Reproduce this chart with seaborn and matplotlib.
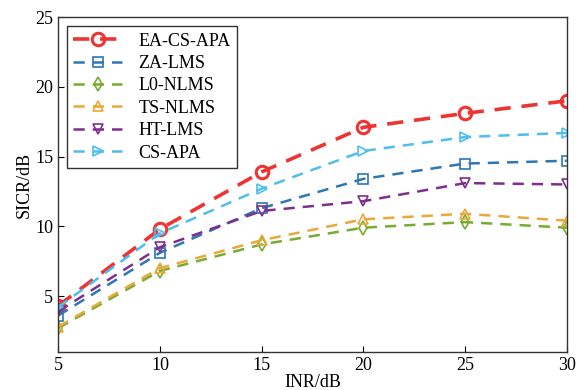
import pandas as pd
import seaborn as sns
import matplotlib.pyplot as plt

inr = [5, 10, 15, 20, 25, 30]
ea_cs_apa = [4.3, 9.8, 13.9, 17.1, 18.1, 19.0]
za_lms = [3.6, 8.1, 11.3, 13.4, 14.5, 14.7]
l0_nlms = [2.7, 6.8, 8.7, 9.9, 10.3, 9.9]
ts_nlms = [2.8, 7.0, 9.0, 10.5, 10.9, 10.4]
ht_lms = [3.9, 8.5, 11.1, 11.8, 13.1, 13.0]
cs_apa = [4.2, 9.5, 12.7, 15.4, 16.4, 16.7]

names = ["EA-CS-APA", "ZA-LMS", "L0-NLMS", "TS-NLMS", "HT-LMS", "CS-APA"]
series = [ea_cs_apa, za_lms, l0_nlms, ts_nlms, ht_lms, cs_apa]

rows = []
for name, vals in zip(names, series):
    for x, v in zip(inr, vals):
        rows.append({"INR": x, "SICR": v, "alg": name})
df = pd.DataFrame(rows)

colors = ["#EE3333", "#2E75B6", "#77AC30", "#E9A83A", "#7E2F8E", "#4DBEEE"]
markers = ["o", "s", "d", "^", "v", ">"]
pal = dict(zip(names, colors))
mk = dict(zip(names, markers))

plt.rcParams["font.family"] = ["Liberation Serif", "DejaVu Serif"]
plt.rcParams["xtick.direction"] = "in"
plt.rcParams["ytick.direction"] = "in"

fig = plt.figure(figsize=(5.79, 3.9), dpi=100)
ax = fig.add_axes([0.1002, 0.098, 0.879, 0.858])

# proposed method, thicker line
sns.lineplot(data=df[df.alg == names[0]], x="INR", y="SICR", hue="alg",
             style="alg", ax=ax, palette=pal, markers=mk,
             dashes={names[0]: (4.5, 3)}, linewidth=2.6, markersize=9,
             markeredgewidth=2.2, fillstyle="none", legend=False)
# the other algorithms
sns.lineplot(data=df[df.alg != names[0]], x="INR", y="SICR", hue="alg",
             style="alg", ax=ax, hue_order=names[1:], style_order=names[1:],
             palette=pal, markers=mk, dashes={n: (4.5, 3.2) for n in names[1:]},
             linewidth=1.8, markersize=7.5, markeredgewidth=1.2,
             fillstyle="none", legend=False)

lines = ax.lines[:len(names)]
for i, line in enumerate(lines):
    line.set_markeredgecolor(colors[i])

ax.set_xlim(4.99, 30.01)
ax.set_ylim(1, 25)
ax.set_xticks([5, 10, 15, 20, 25, 30])
ax.set_yticks([5, 10, 15, 20, 25])
ax.tick_params(labelsize=13, length=4, width=0.8, top=False, right=False)
for s in ax.spines.values():
    s.set_linewidth(1.0)
    s.set_color("#333333")
ax.set_xlabel("INR/dB", fontsize=13, labelpad=0)
ax.set_ylabel("SICR/dB", fontsize=13, labelpad=2)

leg = ax.legend(lines, names, loc="upper left", fontsize=13, frameon=True,
                fancybox=False, edgecolor="black", borderaxespad=0.5,
                handlelength=2.7, labelspacing=0.3, borderpad=0.35,
                handletextpad=0.9)
leg.get_frame().set_linewidth(1.0)

plt.savefig("out.png", dpi=100)
